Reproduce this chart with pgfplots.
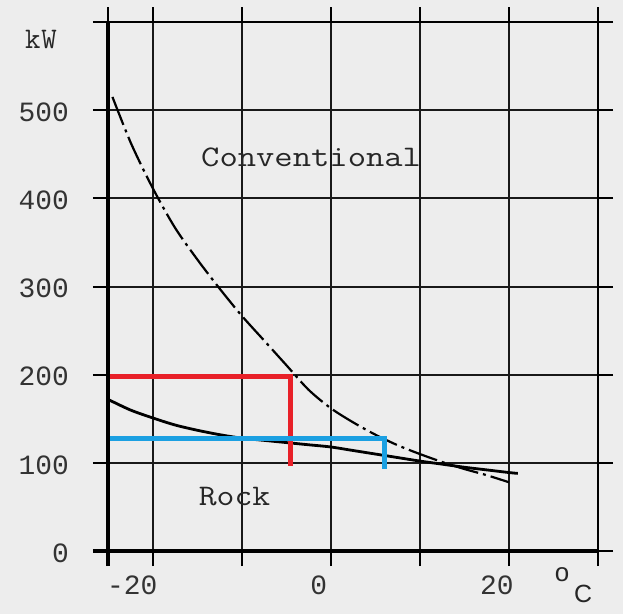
\documentclass[border=0pt]{standalone}
\usepackage{fontspec}
\usepackage{graphicx}
\usepackage{pgfplots}
\pgfplotsset{compat=1.18}
\setmainfont{Liberation Sans}
\newfontfamily\tickfont{Liberation Mono}
\definecolor{bg}{RGB}{237,237,237}
\definecolor{myred}{RGB}{232,32,40}
\definecolor{myblue}{RGB}{27,160,226}
\pgfplotstableread{
x y
-24.5 515
-22.4 462
-20 412
-17.5 367
-15 331
-12.5 298
-10 267
-7.5 239
-5 211
-2.5 183
0 162
2.5 146
5 132
7.5 120
10 110
12.5 101
15 93
17.5 86
20 78
}\conv
\pgfplotstableread{
x y
-25 172
-22.5 160
-20 151
-17.5 143
-15 137
-12.5 132
-10 128
-7.5 125.5
-5 123
-2.5 120.5
0 118
2.5 114
5 110
7.5 106
10 102
12.5 98.5
15 95
17.5 92
20 89
21 88
}\rock
\begin{document}
\begin{tikzpicture}
\fill[bg] (-108bp,-63bp) rectangle (515bp,551bp);
\begin{axis}[
  at={(0,0)}, anchor=south west, scale only axis,
  width=490bp, height=529bp,
  xmin=-25, xmax=30, ymin=0, ymax=600,
  xtick={-25,-20,-10,0,10,20,30},
  xticklabels={,\llap{-}20,,0,,20,},
  ytick={0,100,200,300,400,500,600},
  yticklabels={0,100,200,300,400,500,},
  tick align=outside, major tick length=15bp,
  tick style={black, line width=2bp},
  grid=major, major grid style={black!90, line width=2bp},
  axis line style={black, line width=2.4bp},
  ticklabel style={font=\fontsize{28}{30}\selectfont\tickfont, text=black!80},
  xticklabel style={xshift=-12bp, yshift=-6bp},
  yticklabel style={anchor=east, inner sep=0pt, xshift=-24bp, yshift=-2bp},
  clip=false,
]
\addplot[black, line width=2.2bp, dash pattern=on 30bp off 5bp on 3bp off 5bp, smooth] table[x=x,y=y] {\conv};
\addplot[black, line width=2.8bp, smooth] table[x=x,y=y] {\rock};
\addplot[myred, line width=5bp] coordinates {(-25,198) (-4.5,198) (-4.5,96)};
\addplot[myblue, line width=5bp] coordinates {(-25,128) (6,128) (6,93)};
\node[font=\fontsize{30}{32}\selectfont\ttfamily, text=black!85] at (axis cs:-2.2,447) {\scalebox{1.19}[1]{Conventional}};
\node[font=\fontsize{30}{32}\selectfont\ttfamily, text=black!85] at (axis cs:-10.8,62) {\scalebox{1.16}[1]{Rock}};
\end{axis}
\draw[line width=4bp] (0,-15bp) -- (0,529bp);
\draw[line width=3.5bp] (-15bp,0) -- (490bp,0);
\node[font=\fontsize{30}{32}\selectfont\ttfamily, text=black!85] at (-67bp,511bp) {k\kern1bp W};
\node[font=\fontsize{26}{28}\selectfont, text=black!85] at (454bp,-24bp) {o};
\node[font=\fontsize{25}{27}\selectfont, text=black!85] at (475bp,-43bp) {C};
\pgfresetboundingbox
\useasboundingbox (-108bp,-63bp) rectangle (515bp,551bp);
\end{tikzpicture}
\end{document}
